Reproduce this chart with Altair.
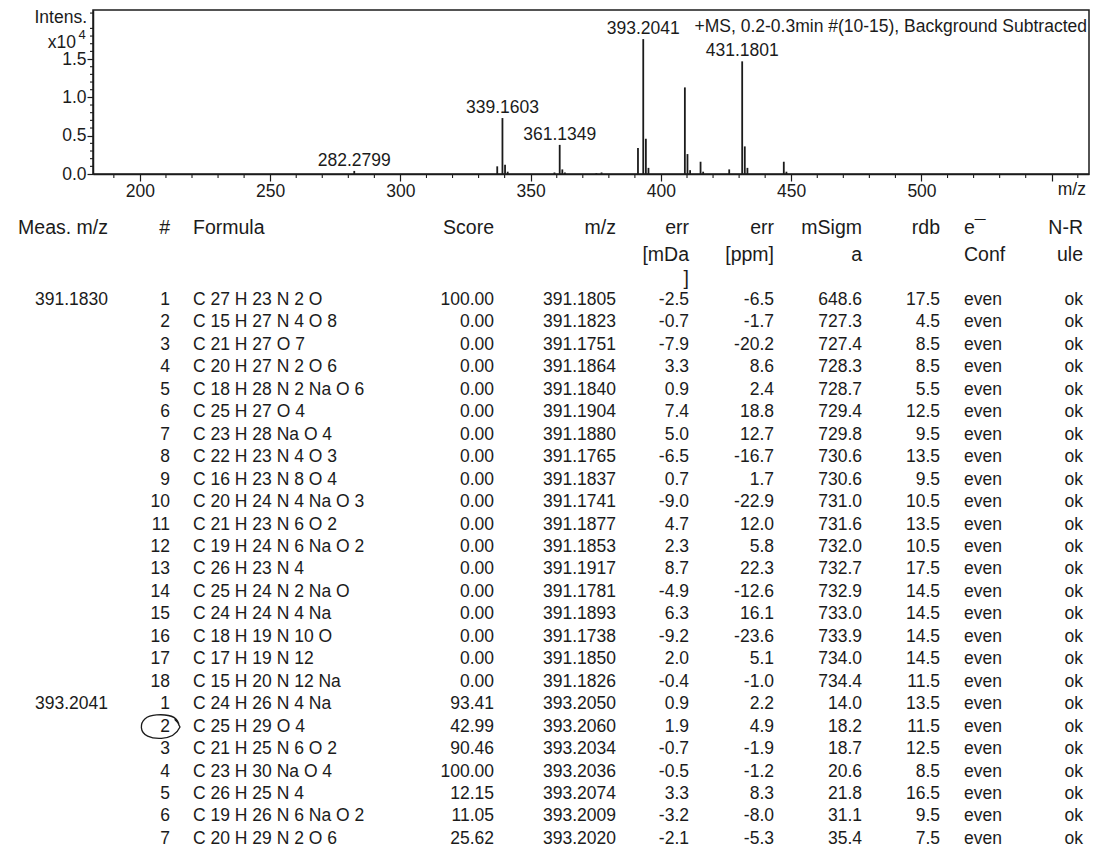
import altair as alt
import pandas as pd

# ---------------- mass spectrum (intensity in units of 1e4 counts) ----------------
peak_mz = [282.2799, 337.16, 339.1603, 340.16, 341.17, 359.12, 361.1349, 362.14, 363.14,
           375.20, 377.20, 391.18, 393.2041, 394.21, 395.21, 409.18, 410.18, 411.19,
           415.20, 416.20, 426.20, 431.1801, 432.18, 433.19, 447.15, 448.16]
peak_int = [0.04, 0.10, 0.73, 0.12, 0.03, 0.02, 0.38, 0.06, 0.02,
            0.01, 0.02, 0.34, 1.76, 0.46, 0.08, 1.13, 0.26, 0.05,
            0.16, 0.03, 0.06, 1.47, 0.36, 0.08, 0.16, 0.03]
labelled_mz = [282.2799, 339.1603, 361.1349, 393.2041, 431.1801]
spectrum_title = "+MS, 0.2-0.3min #(10-15), Background Subtracted"

# axis tick positions
x_major = [200, 250, 300, 350, 400, 450, 500, 550]
x_minor = [v for v in range(190, 561, 10) if v % 50 != 0]
y_major = [0.0, 0.5, 1.0, 1.5]
y_minor = [round(i * 0.1, 1) for i in range(1, 22) if i % 5 != 0]

# ---------------- formula candidates ----------------
meas_mz = ["391.1830"] + [""] * 17 + ["393.2041"] + [""] * 6
cand_no = list(range(1, 19)) + list(range(1, 8))
formula = [
    "C 27 H 23 N 2 O", "C 15 H 27 N 4 O 8", "C 21 H 27 O 7", "C 20 H 27 N 2 O 6",
    "C 18 H 28 N 2 Na O 6", "C 25 H 27 O 4", "C 23 H 28 Na O 4", "C 22 H 23 N 4 O 3",
    "C 16 H 23 N 8 O 4", "C 20 H 24 N 4 Na O 3", "C 21 H 23 N 6 O 2", "C 19 H 24 N 6 Na O 2",
    "C 26 H 23 N 4", "C 25 H 24 N 2 Na O", "C 24 H 24 N 4 Na", "C 18 H 19 N 10 O",
    "C 17 H 19 N 12", "C 15 H 20 N 12 Na",
    "C 24 H 26 N 4 Na", "C 25 H 29 O 4", "C 21 H 25 N 6 O 2", "C 23 H 30 Na O 4",
    "C 26 H 25 N 4", "C 19 H 26 N 6 Na O 2", "C 20 H 29 N 2 O 6",
]
score = [100.00] + [0.00] * 17 + [93.41, 42.99, 90.46, 100.00, 12.15, 11.05, 25.62]
calc_mz = [391.1805, 391.1823, 391.1751, 391.1864, 391.1840, 391.1904, 391.1880, 391.1765,
           391.1837, 391.1741, 391.1877, 391.1853, 391.1917, 391.1781, 391.1893, 391.1738,
           391.1850, 391.1826,
           393.2050, 393.2060, 393.2034, 393.2036, 393.2074, 393.2009, 393.2020]
err_mda = [-2.5, -0.7, -7.9, 3.3, 0.9, 7.4, 5.0, -6.5, 0.7, -9.0, 4.7, 2.3, 8.7, -4.9, 6.3,
           -9.2, 2.0, -0.4,
           0.9, 1.9, -0.7, -0.5, 3.3, -3.2, -2.1]
err_ppm = [-6.5, -1.7, -20.2, 8.6, 2.4, 18.8, 12.7, -16.7, 1.7, -22.9, 12.0, 5.8, 22.3, -12.6,
           16.1, -23.6, 5.1, -1.0,
           2.2, 4.9, -1.9, -1.2, 8.3, -8.0, -5.3]
msigma = [648.6, 727.3, 727.4, 728.3, 728.7, 729.4, 729.8, 730.6, 730.6, 731.0, 731.6, 732.0,
          732.7, 732.9, 733.0, 733.9, 734.0, 734.4,
          14.0, 18.2, 18.7, 20.6, 21.8, 31.1, 35.4]
rdb = [17.5, 4.5, 8.5, 8.5, 5.5, 12.5, 9.5, 13.5, 9.5, 10.5, 13.5, 10.5, 17.5, 14.5, 14.5,
       14.5, 14.5, 11.5,
       13.5, 11.5, 12.5, 8.5, 16.5, 9.5, 7.5]
e_conf = ["even"] * 25
n_rule = ["ok"] * 25
marked_row = 19  # candidate circled by hand (2nd formula for 393.2041)

FONT = "Liberation Sans"
INK = "#1b1b1b"
PLOT_W, PLOT_H = 996, 164
TABLE_H = 650
X0 = 96  # left edge of the plot area on the page

# ---------------- spectrum panel ----------------
peaks = pd.DataFrame({"mz": peak_mz, "inten": peak_int})
labels = peaks[peaks["mz"].isin(labelled_mz)].copy()
labels["lab"] = labels["mz"].map(lambda v: f"{v:.4f}")
one = pd.DataFrame({"k": [0]})

x_scale = alt.Scale(domain=[182.0, 564.3], nice=False, zero=False)
y_scale = alt.Scale(domain=[0, 2.14], nice=False)

x_axis = alt.Axis(
    values=x_major,
    labelExpr="datum.value < 550 ? datum.label : ''",
    labelOverlap=False, labelFontSize=17.5, labelFont=FONT, labelColor=INK,
    labelPadding=1, title=None, grid=False, tickSize=7,
    tickColor=INK, tickWidth=1.2, domainColor=INK, domainWidth=1.5,
)
y_axis = alt.Axis(
    values=y_major, format=".1f",
    labelOverlap=False, labelFontSize=17.5, labelFont=FONT, labelColor=INK,
    labelPadding=1, title=None, grid=False, tickSize=6,
    tickColor=INK, tickWidth=1.2, domainColor=INK, domainWidth=1.5,
)

sticks = alt.Chart(peaks).mark_rule(color=INK, strokeWidth=1.8).encode(
    x=alt.X("mz:Q", scale=x_scale, axis=x_axis),
    y=alt.Y("inten:Q", scale=y_scale, axis=y_axis),
    y2=alt.datum(0),
)
peak_labels = alt.Chart(labels).mark_text(
    baseline="alphabetic", dy=-5, fontSize=17.5, font=FONT, color=INK
).encode(x="mz:Q", y="inten:Q", text="lab:N")

# minor ticks between the labelled ones
x_minor_ticks = alt.Chart(pd.DataFrame({"v": x_minor})).mark_rule(
    color=INK, strokeWidth=1.1
).encode(
    x=alt.X("v:Q", scale=x_scale),
    y=alt.value(PLOT_H), y2=alt.value(PLOT_H + 4),
)
y_minor_ticks = alt.Chart(pd.DataFrame({"v": y_minor})).mark_rule(
    color=INK, strokeWidth=1.1
).encode(
    y=alt.Y("v:Q", scale=y_scale),
    x=alt.value(0), x2=alt.value(-3),
)

def free_text(txt, x, y, align="left", size=17.5):
    return alt.Chart(one).mark_text(
        align=align, baseline="middle", fontSize=size, font=FONT, color=INK
    ).encode(x=alt.value(x), y=alt.value(y), text=alt.value(txt))

spectrum = alt.layer(
    sticks,
    x_minor_ticks,
    y_minor_ticks,
    peak_labels,
    free_text(spectrum_title, PLOT_W - 2, 17, "right"),
    free_text("Intens.", -6, 8, "right"),
    free_text("x10", -17, 33, "right"),
    free_text("4", -11, 25, "center", 13),
    free_text("m/z", PLOT_W - 3, 180, "right"),
).properties(
    width=PLOT_W, height=PLOT_H,
    view=alt.ViewBackground(stroke=INK, strokeWidth=1.5),
)

# ---------------- candidate table panel ----------------
rows = pd.DataFrame({
    "r": list(range(len(formula))),
    "meas": meas_mz,
    "no": [str(v) for v in cand_no],
    "formula": formula,
    "score": [f"{v:.2f}" for v in score],
    "mz": [f"{v:.4f}" for v in calc_mz],
    "mda": [f"{v:.1f}" for v in err_mda],
    "ppm": [f"{v:.1f}" for v in err_ppm],
    "msigma": [f"{v:.1f}" for v in msigma],
    "rdb": [f"{v:.1f}" for v in rdb],
    "conf": e_conf,
    "rule": n_rule,
})

row_scale = alt.Scale(domain=[-4.41, 24.54], nice=False, zero=False, reverse=True)

# column field, anchor x on the page, alignment
columns = [
    ("meas", 111, "right"), ("no", 173, "right"), ("formula", 196, "left"),
    ("score", 497, "right"), ("mz", 619, "right"), ("mda", 692, "right"),
    ("ppm", 777, "right"), ("msigma", 865, "right"), ("rdb", 943, "right"),
    ("conf", 967, "left"), ("rule", 1086, "right"),
]
# header text, column anchor, alignment, header line
headers = [
    ("Meas. m/z", 111, "right", 0), ("#", 173, "right", 0), ("Formula", 196, "left", 0),
    ("Score", 497, "right", 0), ("m/z", 619, "right", 0), ("err", 692, "right", 0),
    ("err", 777, "right", 0), ("mSigm", 865, "right", 0), ("rdb", 943, "right", 0),
    ("e\u00af", 967, "left", 0), ("N-R", 1086, "right", 0),
    ("[mDa", 692, "right", 1), ("[ppm]", 777, "right", 1), ("a", 865, "right", 1),
    ("Conf", 967, "left", 1), ("ule", 1086, "right", 1),
    ("]", 692, "right", 2),
]
header_line_r = [-3.2, -2.0, -0.95]

table_layers = []
for field, xa, al in columns:
    table_layers.append(
        alt.Chart(rows).mark_text(
            align=al, baseline="middle", fontSize=17.5, font=FONT, color=INK
        ).encode(
            x=alt.value(xa - X0),
            y=alt.Y("r:Q", scale=row_scale, axis=None),
            text=f"{field}:N",
        )
    )
for txt, xa, al, line in headers:
    table_layers.append(
        alt.Chart(one).mark_text(
            align=al, baseline="middle", fontSize=19.5, font=FONT, color=INK
        ).encode(
            x=alt.value(xa - X0),
            y=alt.YDatum(header_line_r[line], scale=row_scale, axis=None),
            text=alt.value(txt),
        )
    )

loop_path = ("M0.95,-0.05 C0.9,-0.5 0.4,-0.64 -0.2,-0.6 C-0.75,-0.57 -1,-0.3 -0.98,0.05 "
             "C-0.95,0.45 -0.5,0.63 0.05,0.6 C0.55,0.57 0.85,0.35 1,0.02 "
             "C0.95,-0.12 0.85,-0.28 0.72,-0.38")
table_layers.append(
    alt.Chart(one).mark_point(
        shape=loop_path, size=1521, filled=False, color=INK, strokeWidth=1.3, opacity=1
    ).encode(
        x=alt.value(163.5 - X0),
        y=alt.YDatum(marked_row, scale=row_scale, axis=None),
    )
)

table = alt.layer(*table_layers).properties(width=PLOT_W, height=TABLE_H)

chart = alt.vconcat(spectrum, table, spacing=0).properties(
    padding={"left": 18, "top": 8, "right": 1, "bottom": 0},
    background="white",
).configure_view(strokeWidth=0)

chart.save("out.html", embed_options={"renderer": "svg", "actions": False})
